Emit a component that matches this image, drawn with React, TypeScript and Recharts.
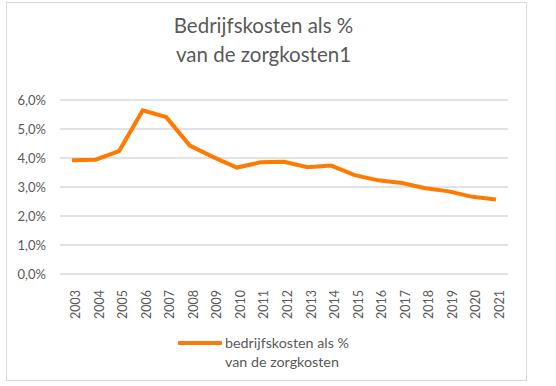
import React from "react";
import { LineChart, Line, XAxis, YAxis, CartesianGrid, Legend } from "recharts";

const years = [
  "2003", "2004", "2005", "2006", "2007", "2008", "2009", "2010", "2011", "2012",
  "2013", "2014", "2015", "2016", "2017", "2018", "2019", "2020", "2021",
];
const costShare = [
  3.92, 3.94, 4.24, 5.64, 5.41, 4.43, 4.03, 3.67, 3.85, 3.87,
  3.68, 3.74, 3.41, 3.23, 3.14, 2.96, 2.85, 2.66, 2.57,
];
const yTicks = [0, 1, 2, 3, 4, 5, 6];
const titleLines = ["Bedrijfskosten als %", "van de zorgkosten1"];
const seriesName = "bedrijfskosten als %\nvan de zorgkosten";

const data = years.map((year, i) => ({ year, value: costShare[i] }));

const FONT = "Lato, 'Open Sans', sans-serif";
const GREY = "#595959";
const ORANGE = "#ff7a00";

const YearTick = (props: any) => {
  const { x, y, payload } = props;
  return (
    <text
      x={x}
      y={y}
      dy={8}
      transform={`rotate(-90, ${x}, ${y})`}
      textAnchor="end"
      fill={GREY}
      fontSize={12.5}
      fontFamily={FONT}
    >
      {payload.value}
    </text>
  );
};

const LegendContent = (props: any) => {
  const entry = props.payload && props.payload[0];
  return (
    <div style={{ display: "flex", alignItems: "flex-start", paddingLeft: 178, fontFamily: FONT }}>
      <div style={{ width: 44, height: 4, background: entry ? entry.color : ORANGE, marginTop: 8, marginRight: 3, borderRadius: 1 }} />
      <div style={{ whiteSpace: "pre-line", fontSize: 14.3, lineHeight: "19px", color: GREY, textAlign: "left" }}>
        {seriesName}
      </div>
    </div>
  );
};

export default function App() {
  return (
    <div style={{ position: "absolute", left: 0, top: 0, width: 556, height: 386, background: "#fff" }}>
      <div
        style={{
          position: "absolute",
          left: 6,
          top: 2,
          width: 519,
          height: 377,
          border: "1px solid #d9d9d9",
        }}
      />
      <LineChart
        width={556}
        height={386}
        data={data}
        margin={{ top: 100, right: 48, bottom: 0, left: 0 }}
      >
        <text x={263.5} y={33} textAnchor="middle" fontSize={20.5} fill={GREY} fontFamily={FONT}>
          {titleLines[0]}
        </text>
        <text x={263.5} y={62} textAnchor="middle" fontSize={20.5} fill={GREY} fontFamily={FONT}>
          {titleLines[1]}
        </text>
        <CartesianGrid vertical={false} stroke="#d9d9d9" strokeWidth={1.3} />
        <XAxis
          dataKey="year"
          height={112}
          axisLine={false}
          tickLine={false}
          tickMargin={10}
          interval={0}
          padding={{ left: 12, right: 12 }}
          tick={<YearTick />}
        />
        <YAxis
          width={60}
          domain={[0, 6]}
          ticks={yTicks}
          axisLine={false}
          tickLine={false}
          tickMargin={8}
          tickFormatter={(v: number) => `${v.toFixed(1).replace(".", ",")}%`}
          tick={{ fill: GREY, fontSize: 13, fontFamily: FONT }}
        />
        <Legend
          layout="horizontal"
          verticalAlign="middle"
          wrapperStyle={{ top: 333, left: 0, width: 556 }}
          content={<LegendContent />}
        />
        <Line
          type="linear"
          dataKey="value"
          name={seriesName}
          stroke={ORANGE}
          strokeWidth={4}
          dot={false}
          activeDot={false}
          isAnimationActive={false}
        />
      </LineChart>
    </div>
  );
}
